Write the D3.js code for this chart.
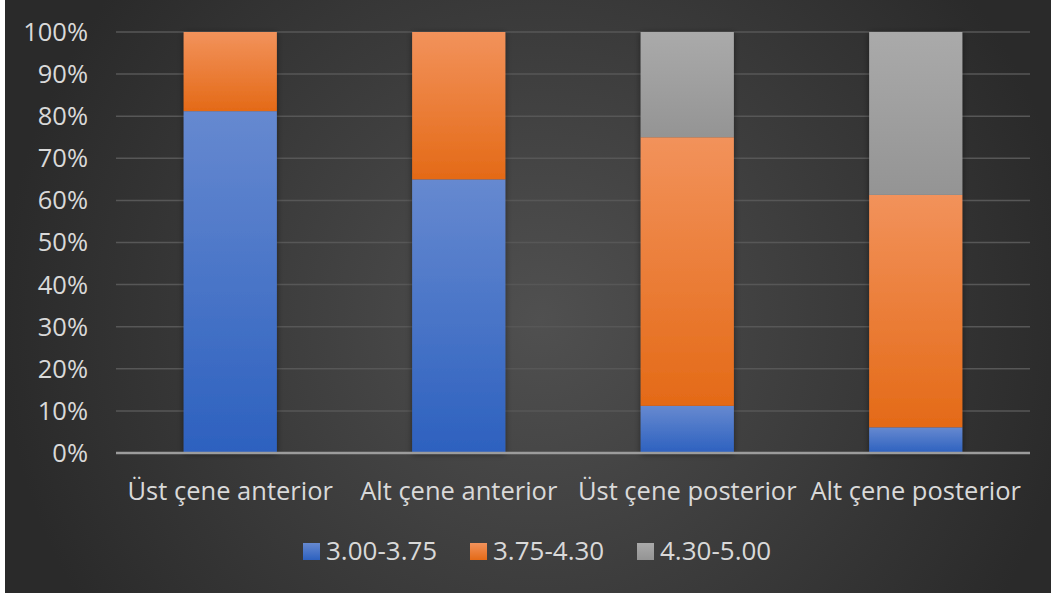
<!DOCTYPE html>
<html>
<head>
<meta charset="utf-8">
<script src="https://cdn.jsdelivr.net/npm/d3@7"></script>
<style>
  html, body { margin: 0; padding: 0; background: #fff; }
  svg { display: block; font-family: "Open Sans", sans-serif; }
</style>
</head>
<body>
<svg id="chart" width="1051" height="596"></svg>
<script>
// categories and series (percent of each bar)
const categories = ["Üst çene anterior", "Alt çene anterior", "Üst çene posterior", "Alt çene posterior"]
const seriesNames = ["3.00-3.75", "3.75-4.30", "4.30-5.00"]
const low = [81.2, 65.0, 11.2, 6.1]
const mid = [18.8, 35.0, 63.8, 55.2]
const high = [0, 0, 25.0, 38.7]
const yTicks = [0, 10, 20, 30, 40, 50, 60, 70, 80, 90, 100]

const colors = [
    { top: "#6689d0", bottom: "#2d61bf" },
    { top: "#f2925b", bottom: "#e46a17" },
    { top: "#aaaaaa", bottom: "#949494" }
]

const svg = d3.select("#chart")
const W = 1051, H = 596
const margin = { left: 116, right: 21, top: 32, bottom: 143 }

const defs = svg.append("defs")

// background radial gradient
const bg = defs.append("radialGradient")
    .attr("id", "bgGrad")
    .attr("gradientUnits", "userSpaceOnUse")
    .attr("cx", 540).attr("cy", 320).attr("r", 540)
bg.append("stop").attr("offset", "0%").attr("stop-color", "#505050")
bg.append("stop").attr("offset", "100%").attr("stop-color", "#2a2a2a")

colors.forEach((c, i) => {
    const g = defs.append("linearGradient")
        .attr("id", "seg" + i)
        .attr("x1", 0).attr("y1", 0).attr("x2", 0).attr("y2", 1)
    g.append("stop").attr("offset", "0%").attr("stop-color", c.top)
    g.append("stop").attr("offset", "100%").attr("stop-color", c.bottom)
})

const shadow = defs.append("filter").attr("id", "shadow")
    .attr("x", "-20%").attr("y", "-20%").attr("width", "140%").attr("height", "140%")
shadow.append("feDropShadow")
    .attr("dx", 0).attr("dy", 1).attr("stdDeviation", 3)
    .attr("flood-color", "#000").attr("flood-opacity", 0.45)

svg.append("rect")
    .attr("x", 5).attr("y", 0)
    .attr("width", W - 5).attr("height", 593)
    .attr("fill", "url(#bgGrad)")

const x = d3.scaleBand()
    .domain(categories)
    .range([margin.left, W - margin.right])
    .paddingInner(0.592)
    .paddingOuter(0.296)

const y = d3.scaleLinear()
    .domain([0, 100])
    .range([H - margin.bottom, margin.top])

// gridlines
svg.append("g")
    .selectAll("line")
    .data(yTicks.filter(d => d > 0))
    .join("line")
    .attr("x1", margin.left).attr("x2", W - margin.right)
    .attr("y1", d => y(d)).attr("y2", d => y(d))
    .attr("stroke", "#575757")
    .attr("stroke-width", 1.5)

// y tick labels
svg.append("g")
    .selectAll("text")
    .data(yTicks)
    .join("text")
    .attr("x", 88)
    .attr("y", d => y(d))
    .attr("dy", "0.35em")
    .attr("text-anchor", "end")
    .attr("fill", "#d9d9d9")
    .style("font-size", "25.5px")
    .text(d => d + "%")

// stacked bars
const table = categories.map((c, i) => ({ cat: c, s0: low[i], s1: mid[i], s2: high[i] }))
const stack = d3.stack().keys(["s0", "s1", "s2"])
const layers = stack(table)

svg.append("g")
    .attr("filter", "url(#shadow)")
    .selectAll("g")
    .data(layers)
    .join("g")
    .attr("fill", (d, i) => "url(#seg" + i + ")")
    .selectAll("rect")
    .data(d => d.filter(p => p[1] - p[0] > 0))
    .join("rect")
    .attr("x", d => x(d.data.cat))
    .attr("width", x.bandwidth())
    .attr("y", d => y(d[1]))
    .attr("height", d => y(d[0]) - y(d[1]))

// axis baseline
svg.append("line")
    .attr("x1", margin.left).attr("x2", W - margin.right)
    .attr("y1", y(0)).attr("y2", y(0))
    .attr("stroke", "#9c9c9c")
    .attr("stroke-width", 2.5)

// category labels
svg.append("g")
    .selectAll("text")
    .data(categories)
    .join("text")
    .attr("x", d => x(d) + x.bandwidth() / 2)
    .attr("y", 500)
    .attr("text-anchor", "middle")
    .attr("fill", "#d9d9d9")
    .style("font-size", "25.5px")
    .text(d => d)

// legend
const legendX = [303, 470, 637]
const legend = svg.append("g")
    .selectAll("g")
    .data(seriesNames)
    .join("g")
    .attr("transform", (d, i) => `translate(${legendX[i]},543)`)
legend.append("rect")
    .attr("width", 17).attr("height", 17)
    .attr("fill", (d, i) => "url(#seg" + i + ")")
legend.append("text")
    .attr("x", 23).attr("y", 17)
    .attr("fill", "#d9d9d9")
    .style("font-size", "26px")
    .text(d => d)
</script>
</body>
</html>
